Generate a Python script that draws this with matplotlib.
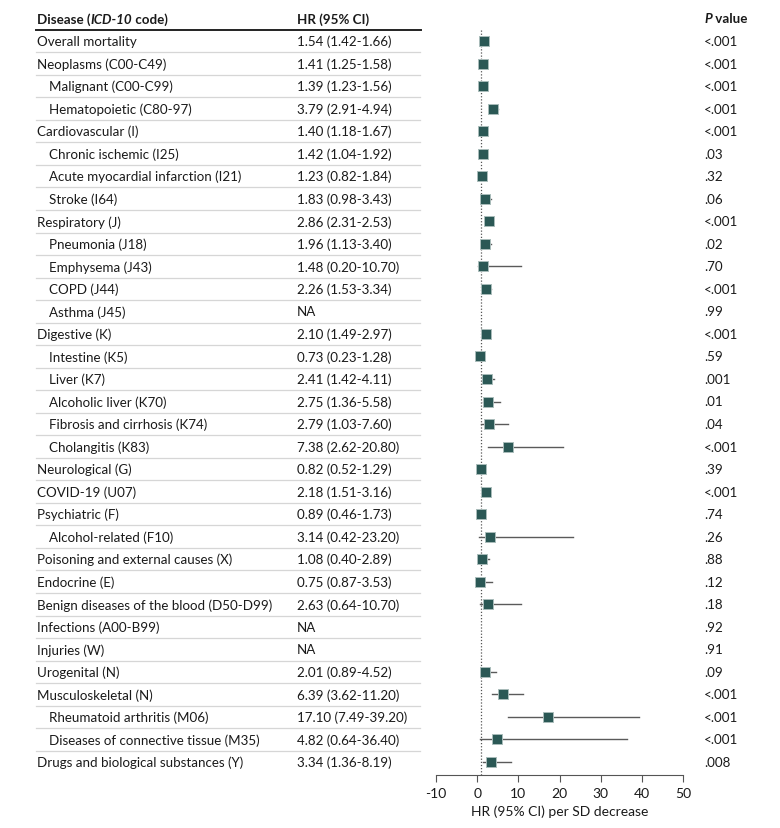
import matplotlib
matplotlib.use("Agg")
import matplotlib.pyplot as plt
import matplotlib.transforms as mtransforms

plt.rcParams['font.family'] = ['Lato', 'DejaVu Sans']
plt.rcParams['axes.unicode_minus'] = False

diseases = [
    "Overall mortality", "Neoplasms (C00-C49)", "Malignant (C00-C99)",
    "Hematopoietic (C80-97)", "Cardiovascular (I)", "Chronic ischemic (I25)",
    "Acute myocardial infarction (I21)", "Stroke (I64)", "Respiratory (J)",
    "Pneumonia (J18)", "Emphysema (J43)", "COPD (J44)", "Asthma (J45)",
    "Digestive (K)", "Intestine (K5)", "Liver (K7)", "Alcoholic liver (K70)",
    "Fibrosis and cirrhosis (K74)", "Cholangitis (K83)", "Neurological (G)",
    "COVID-19 (U07)", "Psychiatric (F)", "Alcohol-related (F10)",
    "Poisoning and external causes (X)", "Endocrine (E)",
    "Benign diseases of the blood (D50-D99)", "Infections (A00-B99)",
    "Injuries (W)", "Urogenital (N)", "Musculoskeletal (N)",
    "Rheumatoid arthritis (M06)", "Diseases of connective tissue (M35)",
    "Drugs and biological substances (Y)",
]
indented = [2, 3, 5, 6, 7, 9, 10, 11, 12, 14, 15, 16, 17, 18, 22, 30, 31]

hr = [1.54, 1.41, 1.39, 3.79, 1.40, 1.42, 1.23, 1.83, 2.86, 1.96, 1.48, 2.26,
      None, 2.10, 0.73, 2.41, 2.75, 2.79, 7.38, 0.82, 2.18, 0.89, 3.14, 1.08,
      0.75, 2.63, None, None, 2.01, 6.39, 17.10, 4.82, 3.34]
ci_low = [1.42, 1.25, 1.23, 2.91, 1.18, 1.04, 0.82, 0.98, 2.31, 1.13, 0.20,
          1.53, None, 1.49, 0.23, 1.42, 1.36, 1.03, 2.62, 0.52, 1.51, 0.46,
          0.42, 0.40, 0.87, 0.64, None, None, 0.89, 3.62, 7.49, 0.64, 1.36]
ci_high = [1.66, 1.58, 1.56, 4.94, 1.67, 1.92, 1.84, 3.43, 2.53, 3.40, 10.70,
           3.34, None, 2.97, 1.28, 4.11, 5.58, 7.60, 20.80, 1.29, 3.16, 1.73,
           23.20, 2.89, 3.53, 10.70, None, None, 4.52, 11.20, 39.20, 36.40,
           8.19]
p_values = ["<.001", "<.001", "<.001", "<.001", "<.001", ".03", ".32", ".06",
            "<.001", ".02", ".70", "<.001", ".99", "<.001", ".59", ".001",
            ".01", ".04", "<.001", ".39", "<.001", ".74", ".26", ".88", ".12",
            ".18", ".92", ".91", ".09", "<.001", "<.001", "<.001", ".008"]

W, H = 780, 829
fig = plt.figure(figsize=(W / 100, H / 100), dpi=100)

row0, row_last, axis_y = 42, 763, 776
step = (row_last - row0) / (len(diseases) - 1)
ybot = (axis_y - row0) / step
ytop = -0.5
top_px = row0 + ytop * step
ax = fig.add_axes([436 / W, 1 - axis_y / H, (683 - 436) / W, (axis_y - top_px) / H])
ax.set_xlim(-10, 50)
ax.set_ylim(ybot, ytop)

fs = 9.6
txt_c = "#1a1a1a"
marker_c = "#2b5855"
for i in range(len(diseases)):
    if hr[i] is None:
        continue
    ax.plot([ci_low[i], ci_high[i]], [i, i], color="#5a5a5a", lw=1.0, zorder=2)
    ax.plot(hr[i], i, marker="s", ms=7, color=marker_c, mec="#a9bcba",
            mew=0.7, zorder=3)

ax.axvline(1, color="#555555", lw=0.9, ls=(0, (1, 1.5)), zorder=1)

for s in ["top", "right", "left"]:
    ax.spines[s].set_visible(False)
ax.spines["bottom"].set_color("#555555")
ax.set_yticks([])
ax.set_xticks(range(-10, 51, 10))
ax.tick_params(axis="x", length=5, color="#555555", labelsize=fs + 0.4,
               labelcolor=txt_c)
ax.set_xlabel("HR (95% CI) per SD decrease", fontsize=fs + 0.4, color=txt_c,
              labelpad=4)

tr = mtransforms.blended_transform_factory(fig.transFigure, ax.transData)
x_name, x_ind, x_hr, x_p = 37 / W, 49 / W, 297 / W, 704 / W

for i, name in enumerate(diseases):
    xn = x_ind if i in indented else x_name
    ax.text(xn, i, name, transform=tr, fontsize=fs, va="center",
            color=txt_c, clip_on=False)
    if hr[i] is None:
        hr_txt = "NA"
    else:
        hr_txt = f"{hr[i]:.2f} ({ci_low[i]:.2f}-{ci_high[i]:.2f})"
    ax.text(x_hr, i, hr_txt, transform=tr, fontsize=fs, va="center",
            color=txt_c, clip_on=False)
    ax.text(x_p, i, p_values[i], transform=tr, fontsize=fs, va="center",
            color=txt_c, clip_on=False)
    if i < len(diseases) - 1:
        ax.plot([36 / W, 420 / W], [i + 0.5, i + 0.5], transform=tr,
                color="#d6d6d6", lw=0.9, clip_on=False)

# header
hy = -1.0
ax.plot([36 / W, 421 / W], [-0.5, -0.5], transform=tr, color="#222222",
        lw=1.4, clip_on=False)
t1 = ax.text(x_name, hy, "Disease (", transform=tr, fontsize=fs,
             fontweight="bold", va="center", color=txt_c, clip_on=False)
t2 = ax.annotate("ICD-10", xy=(1, 0), xycoords=t1, va="bottom", color=txt_c,
                 fontsize=fs, fontweight="bold", style="italic")
ax.annotate(" code)", xy=(1, 0), xycoords=t2, va="bottom", color=txt_c,
            fontsize=fs, fontweight="bold")
ax.text(x_hr, hy, "HR (95% CI)", transform=tr, fontsize=fs, color=txt_c,
        fontweight="bold", va="center", clip_on=False)
p1 = ax.text(x_p, hy, "P", transform=tr, fontsize=fs, fontweight="bold",
             style="italic", va="center", color=txt_c, clip_on=False)
ax.annotate(" value", xy=(1, 0), xycoords=p1, va="bottom", color=txt_c,
            fontsize=fs, fontweight="bold")

fig.savefig("out.png", dpi=100)
